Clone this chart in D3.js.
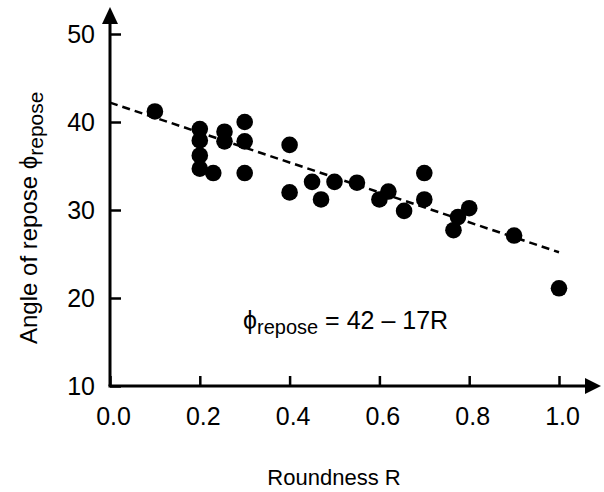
<!DOCTYPE html>
<html>
<head>
<meta charset="utf-8">
<script src="https://cdn.jsdelivr.net/npm/d3@7"></script>
<style>
body { margin: 0; background: #fff; }
svg text { font-family: "Liberation Sans", Arial, sans-serif; fill: #000; }
</style>
</head>
<body>
<div id="chart"></div>
<script>
// Roundness R and angle of repose (degrees)
var roundness = [0.1, 0.2, 0.2, 0.2, 0.2, 0.23, 0.255, 0.255, 0.3, 0.3, 0.3,
	0.4, 0.4, 0.45, 0.47, 0.5, 0.55, 0.6, 0.62, 0.655, 0.7, 0.7, 0.765, 0.775, 0.8, 0.9, 1.0];
var angle = [41.2, 39.2, 37.9, 36.2, 34.7, 34.2, 38.9, 37.8, 40.0, 37.8, 34.2,
	37.4, 32.0, 33.2, 31.2, 33.2, 33.1, 31.2, 32.1, 29.9, 34.2, 31.2, 27.7, 29.2, 30.2, 27.1, 21.1];
var xTicks = [0, 0.2, 0.4, 0.6, 0.8, 1.0];
var yTicks = [10, 20, 30, 40, 50];
// fit: phi = 42 - 17R
var fitR = [0, 1.0];
var fitIntercept = 42.2, fitSlope = -17;

var size = { width: 604, height: 492 };
var margin = { left: 110, top: 34 };
var plotW = 449, plotH = 352;

var svg = d3.select("#chart")
	.append("svg")
	.attr("width", size.width)
	.attr("height", size.height);

var g = svg.append("g")
	.attr("transform", "translate(" + margin.left + "," + margin.top + ")");

var x = d3.scaleLinear().domain([0, 1]).range([0, plotW]);
var y = d3.scaleLinear().domain([10, 50]).range([plotH, 0]);

// Axes
var xAxis = g.append("g")
	.attr("transform", "translate(0," + plotH + ")")
	.call(d3.axisBottom(x).tickValues(xTicks).tickFormat(d3.format(".1f"))
		.tickSizeInner(-10).tickSizeOuter(0).tickPadding(21));

var yAxis = g.append("g")
	.call(d3.axisLeft(y).tickValues(yTicks).tickFormat(d3.format("d"))
		.tickSizeInner(-11).tickSizeOuter(0).tickPadding(15));

[xAxis, yAxis].forEach(function(a) {
	a.select(".domain").remove();
	a.selectAll(".tick line").attr("stroke", "#000").attr("stroke-width", 2.5);
	a.selectAll(".tick text").style("font-size", "25px").attr("fill", "#000");
});
xAxis.selectAll(".tick text").attr("dx", 3);

// axis lines with arrows
g.append("line")
	.attr("x1", 0).attr("y1", plotH)
	.attr("x2", 0).attr("y2", -16)
	.attr("stroke", "#000").attr("stroke-width", 3);
g.append("path")
	.attr("d", "M-8,-10 L0,-27 L8,-10 Z")
	.attr("fill", "#000");

g.append("line")
	.attr("x1", -1.5).attr("y1", plotH)
	.attr("x2", plotW + 30).attr("y2", plotH)
	.attr("stroke", "#000").attr("stroke-width", 3);
g.append("path")
	.attr("d", "M" + (plotW + 26) + "," + (plotH - 8) + " L" + (plotW + 42) + "," + plotH + " L" + (plotW + 26) + "," + (plotH + 8) + " Z")
	.attr("fill", "#000");

// Fit line
g.append("line")
	.attr("x1", x(fitR[0])).attr("y1", y(fitIntercept + fitSlope * fitR[0]))
	.attr("x2", x(fitR[1])).attr("y2", y(fitIntercept + fitSlope * fitR[1]))
	.attr("stroke", "#000").attr("stroke-width", 2.5)
	.attr("stroke-dasharray", "8,5");

// Points
g.selectAll("circle.pt")
	.data(roundness)
	.enter().append("circle")
	.attr("class", "pt")
	.attr("cx", function(d) { return x(d); })
	.attr("cy", function(d, i) { return y(angle[i]); })
	.attr("r", 8.3)
	.attr("fill", "#000");

// Equation
var eq = g.append("text")
	.attr("x", 133)
	.attr("y", 295)
	.style("font-size", "25px");
eq.append("tspan").text("\u03D5");
eq.append("tspan").attr("dy", 5).style("font-size", "20px").text("repose");
eq.append("tspan").attr("dy", -5).text(" = 42 \u2013 17R");

// Axis titles
svg.append("text")
	.attr("x", 334)
	.attr("y", 485)
	.attr("text-anchor", "middle")
	.style("font-size", "22px")
	.text("Roundness R");

var yl = svg.append("text")
	.attr("transform", "translate(37,344) rotate(-90)")
	.attr("text-anchor", "start")
	.style("font-size", "24px");
yl.append("tspan").text("Angle of repose \u03D5");
yl.append("tspan").attr("dy", 6).style("font-size", "21px").text("repose");
</script>
</body>
</html>
